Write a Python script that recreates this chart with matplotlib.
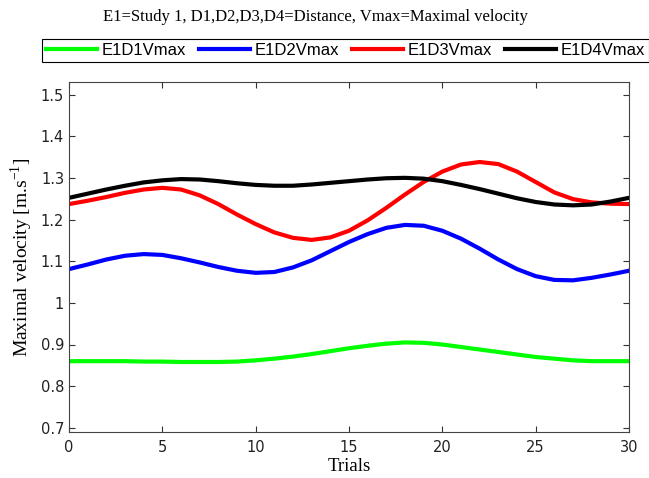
import numpy as np
import matplotlib.pyplot as plt

trials = np.arange(0, 31)

# Maximal velocity (m/s)
e1d1 = [0.860, 0.860, 0.860, 0.860, 0.859, 0.859, 0.858, 0.858, 0.858, 0.859,
        0.862, 0.866, 0.871, 0.877, 0.884, 0.891, 0.897, 0.902, 0.905, 0.904,
        0.900, 0.894, 0.888, 0.882, 0.876, 0.870, 0.866, 0.862, 0.860, 0.860, 0.860]
e1d2 = [1.081, 1.092, 1.104, 1.113, 1.117, 1.115, 1.107, 1.097, 1.086, 1.077,
        1.072, 1.074, 1.085, 1.102, 1.124, 1.146, 1.165, 1.180, 1.187, 1.185,
        1.173, 1.154, 1.130, 1.104, 1.081, 1.064, 1.055, 1.054, 1.060, 1.068, 1.077]
e1d3 = [1.237, 1.245, 1.254, 1.264, 1.272, 1.276, 1.272, 1.258, 1.237, 1.212,
        1.189, 1.169, 1.156, 1.151, 1.157, 1.173, 1.198, 1.228, 1.260, 1.290,
        1.315, 1.332, 1.338, 1.333, 1.315, 1.290, 1.265, 1.249, 1.241, 1.238, 1.237]
e1d4 = [1.252, 1.262, 1.272, 1.281, 1.289, 1.294, 1.297, 1.296, 1.292, 1.287,
        1.283, 1.281, 1.281, 1.284, 1.288, 1.292, 1.296, 1.299, 1.300, 1.298,
        1.292, 1.283, 1.273, 1.262, 1.251, 1.242, 1.236, 1.234, 1.236, 1.243, 1.252]

labels = ['E1D1Vmax', 'E1D2Vmax', 'E1D3Vmax', 'E1D4Vmax']
colors = ['#00ff00', '#0000ff', '#ff0000', '#000000']

W, H = 649, 478
fig = plt.figure(figsize=(W / 100, H / 100), dpi=100)
ax = fig.add_axes([69 / W, 1 - 432 / H, 560 / W, 350 / H])

for y, lab, c in zip([e1d1, e1d2, e1d3, e1d4], labels, colors):
    ax.plot(trials, y, color=c, lw=3, label=lab, solid_joinstyle='round')

ax.set_xlim(0, 30)
ax.set_ylim(0.69, 1.53)
ax.set_xticks(np.arange(0, 31, 5))
ax.set_yticks(np.arange(0.7, 1.51, 0.1))
ax.set_yticklabels(['0.7', '0.8', '0.9', '1', '1.1', '1.2', '1.3', '1.4', '1.5'])
ax.tick_params(direction='in', length=4, top=True, right=True,
               labelsize=10.5, colors='#333333', labelcolor='#222222')
ax.tick_params(axis='x', pad=6)
for s in ax.spines.values():
    s.set_color('#444444')

serif = ['Liberation Serif', 'DejaVu Serif']
ax.set_xlabel('Trials', family=serif, fontsize=13.5, labelpad=2)
ax.set_ylabel('Maximal velocity [m.s$^{\\mathregular{-1}}$]', family=serif, fontsize=14, labelpad=4)
fig.text(103 / W, 1 - 17 / H, 'E1=Study 1, D1,D2,D3,D4=Distance, Vmax=Maximal velocity',
         family=serif, fontsize=12, va='center', ha='left')

leg = fig.legend(loc='upper left', bbox_to_anchor=(42 / W, 1 - 39 / H), ncol=4,
                 prop={'family': 'Liberation Sans', 'size': 12},
                 handlelength=3.05, handletextpad=0.3, columnspacing=0.76,
                 borderpad=0.25, borderaxespad=0, fancybox=False, framealpha=1)
leg.get_frame().set_edgecolor('#000000')
leg.get_frame().set_linewidth(0.8)

fig.savefig('out.png', dpi=100)
